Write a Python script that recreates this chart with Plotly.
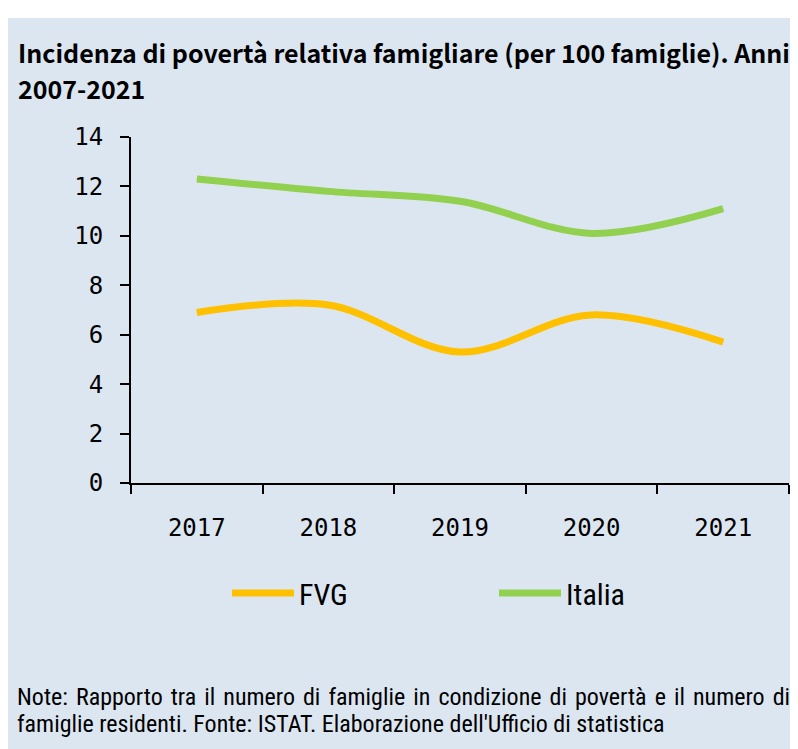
import plotly.graph_objects as go

years = ["2017", "2018", "2019", "2020", "2021"]
fvg = [6.9, 7.2, 5.3, 6.8, 5.7]
italia = [12.3, 11.8, 11.4, 10.1, 11.1]
y_ticks = [0, 2, 4, 6, 8, 10, 12, 14]

title_l1 = "Incidenza di povertà relativa famigliare (per 100 famiglie). Anni"
title_l2 = "2007-2021"
note_l1 = "Note: Rapporto tra il numero di famiglie in condizione di povertà e il numero di"
note_l2 = "famiglie residenti. Fonte: ISTAT. Elaborazione dell'Ufficio di statistica"

# page has an 8px body margin: figure origin sits at (8, 8) in the window
OFF = 8
W, H = 790, 741
ML, MR, MT, MB = 123, 9, 129, 266
PW, PH = W - ML - MR, H - MT - MB

def px(xpage):
    return (xpage - OFF - ML) / PW

def py(ypage):
    return (H - MB - (ypage - OFF)) / PH

COND = "Roboto Condensed"
TITLE_FONT = "Noto Sans CJK SC"
TICK_FONT = "DejaVu Sans Mono"

fig = go.Figure()
fig.add_trace(go.Scatter(x=years, y=fvg, name="FVG", mode="lines",
                         line=dict(color="#FFC000", width=7, shape="spline", smoothing=1.0)))
fig.add_trace(go.Scatter(x=years, y=italia, name="Italia", mode="lines",
                         line=dict(color="#92D050", width=7, shape="spline", smoothing=1.0)))

fig.add_shape(type="rect", xref="paper", yref="paper", x0=px(8), x1=px(810), y0=py(770), y1=py(18),
              fillcolor="#DCE6F1", line=dict(width=0), layer="below")

fig.add_annotation(text="<b>" + title_l1 + "</b>", xref="paper", yref="paper", x=px(16), y=py(52),
                   xanchor="left", yanchor="middle", showarrow=False,
                   font=dict(family=TITLE_FONT, size=25, color="black"))
fig.add_annotation(text="<b>" + title_l2 + "</b>", xref="paper", yref="paper", x=px(16), y=py(88),
                   xanchor="left", yanchor="middle", showarrow=False,
                   font=dict(family=TITLE_FONT, size=25, color="black"))

# justified first line: widen each word gap slightly with a hair space
fig.add_annotation(text=note_l1.replace(" ", " \u200a"), xref="paper", yref="paper", x=px(15), y=py(697),
                   xanchor="left", yanchor="middle", showarrow=False,
                   font=dict(family=COND, size=24, color="black"))
fig.add_annotation(text=note_l2, xref="paper", yref="paper", x=px(15), y=py(724),
                   xanchor="left", yanchor="middle", showarrow=False,
                   font=dict(family=COND, size=24, color="black"))

fig.update_layout(
    width=W, height=H,
    margin=dict(l=ML, r=MR, t=MT, b=MB),
    paper_bgcolor="white", plot_bgcolor="rgba(0,0,0,0)",
    showlegend=True,
    legend=dict(orientation="h", x=px(227), y=py(593), xanchor="left", yanchor="middle",
                font=dict(family=COND, size=30, color="black"),
                itemwidth=62, entrywidth=190, bgcolor="rgba(0,0,0,0)"),
)
fig.update_xaxes(type="category", categoryorder="array", categoryarray=years,
                 range=[-0.5, 4.5], showgrid=False, zeroline=False,
                 showline=True, linecolor="black", linewidth=2,
                 ticks="outside", tickson="boundaries", ticklen=9, tickwidth=2, tickcolor="black",
                 tickfont=dict(family=TICK_FONT, size=24, color="black"), ticklabelstandoff=22)
fig.update_yaxes(range=[0, 14], tickvals=y_ticks, showgrid=False, zeroline=False,
                 showline=True, linecolor="black", linewidth=2,
                 ticks="outside", ticklen=9, tickwidth=2, tickcolor="black",
                 tickfont=dict(family=TICK_FONT, size=24, color="black"), ticklabelstandoff=12)

fig.write_html("out.html")
